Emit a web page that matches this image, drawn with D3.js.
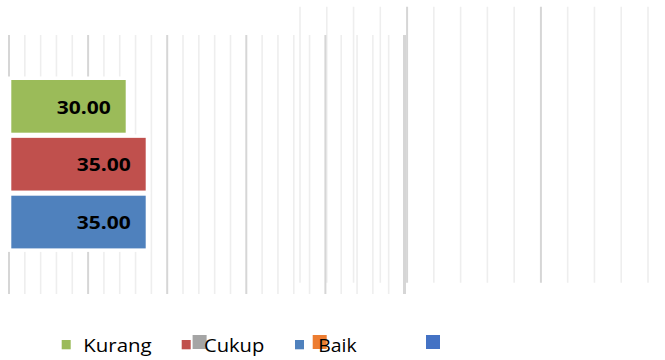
<!DOCTYPE html>
<html><head><meta charset="utf-8">
<script src="https://cdn.jsdelivr.net/npm/d3@7"></script>
<style>html,body{margin:0;padding:0;background:#fff;}svg{display:block;}</style>
</head><body>
<script>
// ---- data ----
const categories = ["Kurang", "Cukup", "Baik"];
const values = [30, 35, 35];
const valueLabels = ["30.00", "35.00", "35.00"];
const legendNames = ["Kurang", "Cukup", "Baik"];
const barColors = ["#9BBB59", "#C0504D", "#4F81BD"];
const ghostLegendColors = ["#A5A5A5", "#ED7D31", "#4472C4"];

const W = 665, H = 360;
const svg = d3.select("body").append("svg").attr("width", W).attr("height", H);
svg.append("rect").attr("width", W).attr("height", H).attr("fill", "#fff");

// ---- back (ghost) chart grid ----
const backX = d3.scaleLinear().domain([0, 13]).range([300, 648]);
svg.append("g").selectAll("line").data(d3.range(14)).join("line")
  .attr("x1", d => backX(d)).attr("x2", d => backX(d))
  .attr("y1", 6.7).attr("y2", 282.7)
  .attr("stroke", d => (d === 4 || d === 9) ? "#d6d6d6" : "#eeeeee")
  .attr("stroke-width", d => (d === 4 || d === 9) ? 2 : 1.6);

// ---- front chart grid ----
const gridX = d3.scaleLinear().domain([0, 25]).range([9, 404.5]);
svg.append("g").selectAll("line").data(d3.range(26)).join("line")
  .attr("x1", d => gridX(d)).attr("x2", d => gridX(d))
  .attr("y1", 35).attr("y2", 294)
  .attr("stroke", d => d % 5 === 0 ? "#d6d6d6" : "#eeeeee")
  .attr("stroke-width", d => d === 25 ? 3 : (d % 5 === 0 ? 2 : 1.6));

// ---- bars ----
const x = d3.scaleLinear().domain([0, 35]).range([5.7, 145.7]);
const y = d3.scaleBand().domain(categories).range([80, 248.4]).paddingInner(0.089).paddingOuter(0);
const barLeft = 11.3;
const bars = categories.map((c, i) => ({ c, v: values[i], label: valueLabels[i], color: barColors[i] }));

svg.append("g").selectAll("rect").data(bars).join("rect")
  .attr("x", barLeft - 4.5).attr("y", d => y(d.c) - 3.5)
  .attr("width", d => x(d.v) - barLeft + 9).attr("height", y.bandwidth() + 7)
  .attr("fill", "#fff");

svg.append("g").selectAll("rect").data(bars).join("rect")
  .attr("x", barLeft).attr("y", d => y(d.c))
  .attr("width", d => x(d.v) - barLeft).attr("height", y.bandwidth())
  .attr("fill", d => d.color);

svg.append("g").selectAll("text").data(bars).join("text")
  .attr("x", d => x(d.v) - 15).attr("y", d => y(d.c) + 33.5)
  .attr("text-anchor", "end")
  .attr("font-family", "'Open Sans', sans-serif").attr("font-weight", 700)
  .attr("font-size", 18.5).attr("fill", "#000")
  .attr("textLength", 54).attr("lengthAdjust", "spacingAndGlyphs")
  .text(d => d.label);

// ---- legend ----
const legend = svg.append("g");
const legSmallX = [61.7, 181.7, 295];
const legTextX = [83.3, 204, 318.3];
const legTextLen = [68.4, 60.3, 38.4];
const ghostX = [192.6, 312.7, 426];

legend.selectAll("rect.sm").data(legendNames).join("rect").attr("class", "sm")
  .attr("x", (d, i) => legSmallX[i]).attr("y", 340)
  .attr("width", 9).attr("height", 9.3)
  .attr("fill", (d, i) => barColors[i]);

legend.selectAll("rect.gh").data(ghostLegendColors).join("rect").attr("class", "gh")
  .attr("x", (d, i) => ghostX[i]).attr("y", 335)
  .attr("width", 14).attr("height", 14)
  .attr("fill", d => d);

legend.selectAll("text").data(legendNames).join("text")
  .attr("x", (d, i) => legTextX[i]).attr("y", 352.3)
  .attr("font-family", "'Open Sans', sans-serif")
  .attr("font-size", 18.3).attr("fill", "#000")
  .attr("textLength", (d, i) => legTextLen[i]).attr("lengthAdjust", "spacingAndGlyphs")
  .text(d => d);
</script>
</body></html>
